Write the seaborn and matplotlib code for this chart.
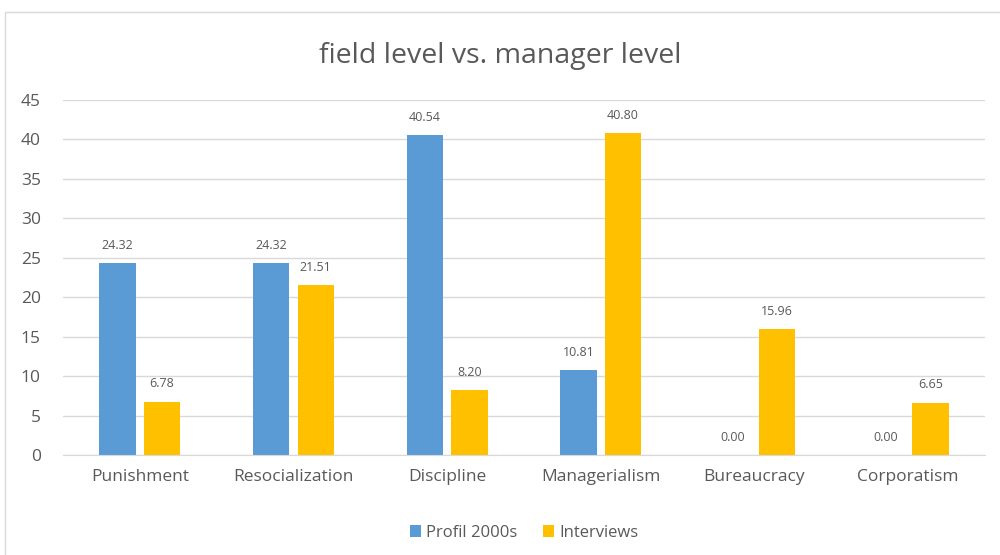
import pandas as pd
import seaborn as sns
import matplotlib.pyplot as plt
from matplotlib.patches import Rectangle

# ---------------------------------------------------------
# data
# ---------------------------------------------------------
categories = ['Punishment', 'Resocialization', 'Discipline', 'Managerialism', 'Bureaucracy', 'Corporatism']
profil_2000s = [24.32, 24.32, 40.54, 10.81, 0.00, 0.00]
interviews = [6.78, 21.51, 8.20, 40.80, 15.96, 6.65]
series_names = ['Profil 2000s', 'Interviews']
colors = ['#5B9BD5', '#FFC000']

df = pd.DataFrame({
    'category': categories * 2,
    'value': profil_2000s + interviews,
    'series': [series_names[0]] * len(categories) + [series_names[1]] * len(categories),
})

# ---------------------------------------------------------
# plot
# ---------------------------------------------------------
sns.set_style('white')
plt.rcParams['font.family'] = ['Open Sans', 'DejaVu Sans']
text_col = '#595959'

fig = plt.figure(figsize=(10, 5.55), dpi=100)
ax = fig.add_axes([0.063, 0.180, 0.922, 0.640])

sns.barplot(data=df, x='category', y='value', hue='series', order=categories,
            hue_order=series_names, palette=colors, width=0.58, gap=0.18,
            saturation=1, linewidth=0, ax=ax, legend=True, zorder=2)

for cont in ax.containers:
    ax.bar_label(cont, fmt='%.2f', padding=8, fontsize=9, color=text_col)

ax.set_ylim(0, 45)
ax.set_yticks(range(0, 46, 5))
ax.set_xlim(-0.5, len(categories) - 0.5)
ax.yaxis.grid(True, color='#D9D9D9', linewidth=1, zorder=0)
ax.set_axisbelow(True)
for s in ['top', 'right', 'left']:
    ax.spines[s].set_visible(False)
ax.spines['bottom'].set_color('#D9D9D9')
ax.tick_params(axis='both', length=0, labelsize=12.5, labelcolor=text_col)
ax.tick_params(axis='x', pad=10)
ax.tick_params(axis='y', pad=16)
ax.set_xlabel('')
ax.set_ylabel('')

fig.suptitle('field level vs. manager level', y=0.925, fontsize=20.5, color=text_col)

ax.legend(loc='upper center', bbox_to_anchor=(0.5, -0.155), ncol=2, frameon=False,
          fontsize=12, handlelength=0.7, handleheight=0.7, handletextpad=0.3,
          columnspacing=1.5, labelcolor=text_col)

fig.add_artist(Rectangle((0.005, -0.01), 1.0, 0.989, transform=fig.transFigure,
                         fill=False, edgecolor='#D9D9D9', linewidth=1))

fig.savefig('out.png', dpi=100)
